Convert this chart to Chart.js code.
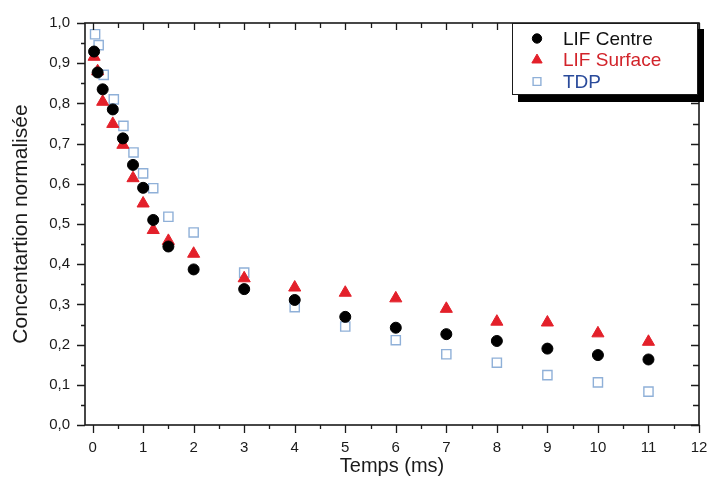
<!DOCTYPE html>
<html>
<head>
<meta charset="utf-8">
<script src="https://cdn.jsdelivr.net/npm/chart.js@4/dist/chart.umd.min.js"></script>
<style>
  html, body { margin: 0; padding: 0; background: #fff; }
  #wrap { width: 707px; height: 479px; position: relative; }
</style>
</head>
<body>
<div id="wrap"><canvas id="chart"></canvas></div>
<script>
//Data (time in ms, normalised concentration)
const timeCentre = [0.03, 0.1, 0.2, 0.4, 0.6, 0.8, 1.0, 1.2, 1.5, 2, 3, 4, 5, 6, 7, 8, 9, 10, 11];
const lifCentre = [0.929, 0.877, 0.835, 0.785, 0.713, 0.647, 0.590, 0.510, 0.444, 0.387, 0.338, 0.311, 0.269, 0.242, 0.226, 0.209, 0.190, 0.174, 0.163];

const timeSurface = [0.03, 0.1, 0.2, 0.4, 0.6, 0.8, 1.0, 1.2, 1.5, 2, 3, 4, 5, 6, 7, 8, 9, 10, 11];
const lifSurface = [0.916, 0.880, 0.804, 0.749, 0.697, 0.614, 0.551, 0.485, 0.458, 0.426, 0.365, 0.342, 0.329, 0.315, 0.289, 0.257, 0.255, 0.228, 0.207];

const timeTdp = [0.05, 0.12, 0.22, 0.42, 0.61, 0.81, 1.0, 1.2, 1.5, 2, 3, 4, 5, 6, 7, 8, 9, 10, 11];
const tdp = [0.972, 0.945, 0.871, 0.810, 0.744, 0.678, 0.626, 0.589, 0.518, 0.479, 0.379, 0.293, 0.245, 0.211, 0.176, 0.155, 0.124, 0.106, 0.083];

const seriesLabels = ["LIF Centre", "LIF Surface", "TDP"];
const labelColors = ["#111111", "#d2232a", "#2a4b9b"];

const xTitle = "Temps (ms)";
const yTitle = "Concentartion normalisée";

//Build the points for a dataset from two arrays
function toPoints(xs, ys) {
  return xs.map(function (x, i) {
    return { x: x, y: ys[i] };
  });
}

const FONT = "'Liberation Sans', Arial, sans-serif";
const INK = "#1a1a1a";

//Draw the frame and the ticks on all four sides (Origin style)
const frameTicks = {
  id: "frameTicks",
  afterDraw(chart) {
    const ctx = chart.ctx;
    const xs = chart.scales.x;
    const ys = chart.scales.y;
    const a = chart.chartArea;
    ctx.save();
    ctx.strokeStyle = INK;
    ctx.lineWidth = 1.6;
    ctx.strokeRect(a.left, a.top, a.right - a.left, a.bottom - a.top);

    ctx.lineWidth = 1.3;
    ctx.beginPath();
    //x ticks every 0.5, majors on whole numbers
    for (let i = 0; i <= 24; i++) {
      const px = Math.round(xs.getPixelForValue(i * 0.5)) + 0.5;
      const major = i % 2 === 0;
      //bottom, outward
      ctx.moveTo(px, a.bottom);
      ctx.lineTo(px, a.bottom + (major ? 8 : 4));
      //top, inward
      ctx.moveTo(px, a.top);
      ctx.lineTo(px, a.top + (major ? 7 : 5));
    }
    //y ticks every 0.05, majors every 0.1
    for (let i = 0; i <= 20; i++) {
      const py = Math.round(ys.getPixelForValue(i * 0.05)) + 0.5;
      const major = i % 2 === 0;
      //left, outward
      ctx.moveTo(a.left, py);
      ctx.lineTo(a.left - (major ? 8 : 4), py);
      //right, inward
      ctx.moveTo(a.right, py);
      ctx.lineTo(a.right - (major ? 8 : 6), py);
    }
    ctx.stroke();
    ctx.restore();
  }
};

//Legend box with drop shadow in the top right corner
const boxLegend = {
  id: "boxLegend",
  afterDraw(chart) {
    const ctx = chart.ctx;
    const a = chart.chartArea;
    const left = 512, top = a.top, right = a.right - 1, bottom = 95;
    ctx.save();
    //shadow
    ctx.fillStyle = "#000";
    ctx.fillRect(left + 6, top + 6, right - left + 0, bottom - top + 1);
    ctx.fillStyle = "#fff";
    ctx.fillRect(left, top, right - left, bottom - top);
    ctx.strokeStyle = INK;
    ctx.lineWidth = 1;
    ctx.strokeRect(left + 0.5, top + 0.5, right - left - 1, bottom - top - 1);

    const rows = [38.5, 60, 81.5];
    chart.data.datasets.forEach(function (ds, i) {
      const y = rows[i];
      ctx.fillStyle = ds.backgroundColor;
      ctx.strokeStyle = ds.borderColor;
      ctx.lineWidth = ds.borderWidth;
      Chart.helpers.drawPoint(ctx, {
        pointStyle: ds.pointStyle,
        radius: ds.pointRadius * 0.85,
        borderWidth: ds.borderWidth
      }, 537, y);
      ctx.fillStyle = labelColors[i];
      ctx.font = "19px " + FONT;
      ctx.textAlign = "left";
      ctx.textBaseline = "middle";
      ctx.fillText(ds.label, 563, y + 1);
    });
    ctx.restore();
  }
};

const ctx = document.getElementById("chart");

new Chart(ctx, {
  type: "scatter",
  data: {
    datasets: [
      {
        label: seriesLabels[0],
        data: toPoints(timeCentre, lifCentre),
        pointStyle: "circle",
        pointRadius: 5.5,
        pointHoverRadius: 5.5,
        backgroundColor: "#000000",
        borderColor: "#000000",
        borderWidth: 1
      },
      {
        label: seriesLabels[1],
        data: toPoints(timeSurface, lifSurface),
        pointStyle: "triangle",
        pointRadius: 7,
        pointHoverRadius: 7,
        backgroundColor: "#e3202a",
        borderColor: "#e3202a",
        borderWidth: 1
      },
      {
        label: seriesLabels[2],
        data: toPoints(timeTdp, tdp),
        pointStyle: "rect",
        pointRadius: 6.5,
        pointHoverRadius: 6.5,
        backgroundColor: "rgba(255,255,255,0)",
        borderColor: "#8fb0d8",
        borderWidth: 1.4
      }
    ]
  },
  options: {
    responsive: true,
    maintainAspectRatio: false,
    animation: false,
    layout: { padding: { top: 23, right: 7, left: 0, bottom: 0 } },
    plugins: {
      legend: { display: false },
      tooltip: { enabled: false }
    },
    scales: {
      x: {
        type: "linear",
        min: -0.15,
        max: 12,
        afterFit(scale) {
          scale.height = 54;
          scale.paddingLeft = 0;
          scale.paddingRight = 0;
        },
        border: { display: false },
        grid: { display: false, drawTicks: false },
        ticks: {
          stepSize: 1,
          includeBounds: false,
          padding: 14,
          color: INK,
          font: { family: FONT, size: 15 },
          maxRotation: 0
        },
        title: {
          display: true,
          text: xTitle,
          color: INK,
          font: { family: FONT, size: 20 },
          padding: { top: 0, bottom: 1 }
        }
      },
      y: {
        type: "linear",
        min: 0,
        max: 1,
        afterFit(scale) {
          scale.width = 85;
          scale.paddingTop = 0;
          scale.paddingBottom = 0;
        },
        border: { display: false },
        grid: { display: false, drawTicks: false },
        ticks: {
          stepSize: 0.1,
          padding: 15,
          color: INK,
          font: { family: FONT, size: 15 },
          callback: function (v) { return v.toFixed(1).replace(".", ","); }
        },
        title: {
          display: true,
          text: yTitle,
          color: INK,
          font: { family: FONT, size: 21 },
          padding: { top: 9, bottom: 0 }
        }
      }
    }
  },
  plugins: [frameTicks, boxLegend]
});
</script>
</body>
</html>
